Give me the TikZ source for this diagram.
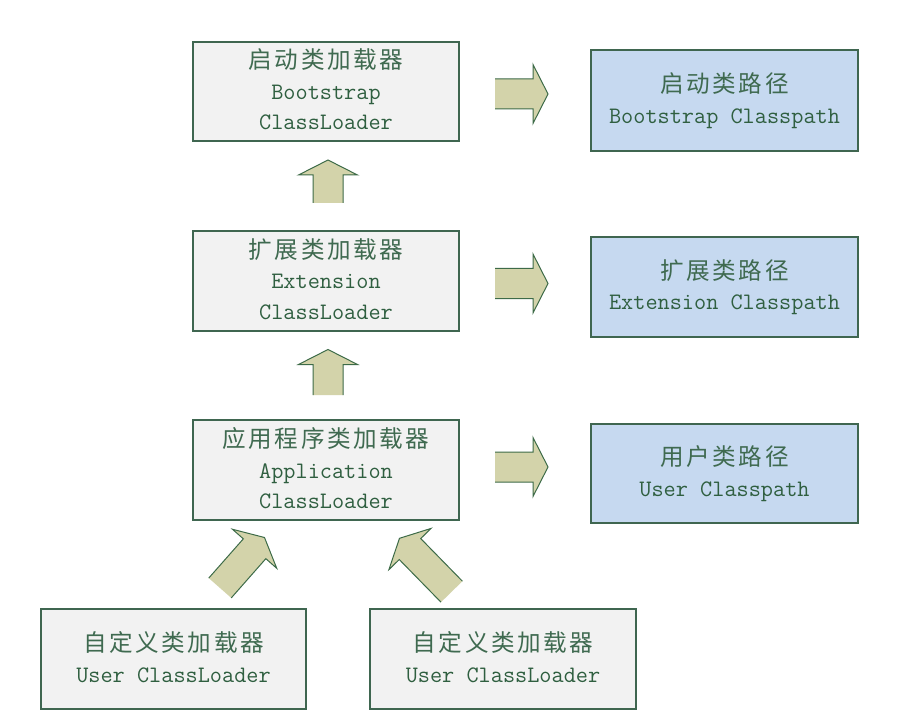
\documentclass[tikz,border=0pt]{standalone}
\usepackage{fontspec}
\newfontfamily\cjk[LetterSpace=11]{Noto Sans CJK SC}
\usetikzlibrary{calc}
\definecolor{boxgray}{HTML}{F2F2F2}
\definecolor{boxblue}{HTML}{C6D9F0}
\definecolor{edgecol}{HTML}{3F6650}
\definecolor{txtcol}{HTML}{2F5F40}
\definecolor{cjkcol}{HTML}{3F6A50}
\definecolor{arrfill}{HTML}{D3D3AA}
\definecolor{arredge}{HTML}{3D6B48}
\newcommand\lowstrut{\rule[-4pt]{0pt}{4pt}}
\newcommand\blockarrow[2]{%
  \coordinate (hb) at ($(#2)!15pt!(#1)$);
  \fill[arrfill] ($(#1)!15pt!90:(#2)$) -- ($(hb)!15pt!90:(#2)$) -- ($(hb)!29.5pt!90:(#2)$) -- (#2)
     -- ($(hb)!29.5pt!-90:(#2)$) -- ($(hb)!15pt!-90:(#2)$) -- ($(#1)!15pt!-90:(#2)$) -- cycle;
  \draw[arredge, line width=1pt, line join=miter] ($(#1)!15pt!90:(#2)$) -- ($(hb)!15pt!90:(#2)$) -- ($(hb)!29.5pt!90:(#2)$) -- (#2)
     -- ($(hb)!29.5pt!-90:(#2)$) -- ($(hb)!15pt!-90:(#2)$) -- ($(#1)!15pt!-90:(#2)$);
}
\tikzset{
  loader/.style={draw=edgecol, line width=1.2pt, fill=boxgray, minimum width=266pt, minimum height=99pt,
    inner sep=0pt, align=center, text=txtcol, font=\ttfamily\fontsize{23.6}{30.5}\selectfont},
  cpath/.style={loader, fill=boxblue, minimum width=267pt}
}
\begin{document}
\begin{tikzpicture}[x=1pt,y=-1pt]
\useasboundingbox (0,0) rectangle (900,722);
\node[loader] (b1) at (326,91.5) {{\color{cjkcol}\cjk 启动类加载器}\\Bootstrap\\ClassLoader\lowstrut};
\node[loader, minimum height=100pt] (b2) at (326,281) {{\color{cjkcol}\cjk 扩展类加载器}\\Extension\\ClassLoader\lowstrut};
\node[loader, minimum height=100pt] (b3) at (326,470) {{\color{cjkcol}\cjk 应用程序类加载器}\\Application\\ClassLoader\lowstrut};
\node[cpath, minimum height=101pt] (p1) at (724.5,100.5) {{\color{cjkcol}\cjk 启动类路径}\\Bootstrap Classpath};
\node[cpath, minimum height=100pt] (p2) at (724.5,287) {{\color{cjkcol}\cjk 扩展类路径}\\Extension Classpath};
\node[cpath] (p3) at (724.5,473.5) {{\color{cjkcol}\cjk 用户类路径}\\User Classpath};
\node[loader, minimum width=265pt, minimum height=100pt] (u1) at (173.5,659) {{\color{cjkcol}\cjk 自定义类加载器}\\User ClassLoader\lowstrut};
\node[loader, minimum height=100pt] (u2) at (503,659) {{\color{cjkcol}\cjk 自定义类加载器}\\User ClassLoader\lowstrut};
\coordinate (r1t) at (495,94);    \coordinate (r1h) at (548,94);
\coordinate (r2t) at (495,283.5); \coordinate (r2h) at (548,283.5);
\coordinate (r3t) at (495,467);   \coordinate (r3h) at (548,467);
\coordinate (u1t) at (328,203);   \coordinate (u1h) at (328,160);
\coordinate (u2t) at (328,395);   \coordinate (u2h) at (328,349.5);
\coordinate (d1t) at (220,588);   \coordinate (d1h) at (264.5,537.5);
\coordinate (d2t) at (451.7,591.7); \coordinate (d2h) at (399.5,538.3);
\blockarrow{r1t}{r1h}
\blockarrow{r2t}{r2h}
\blockarrow{r3t}{r3h}
\blockarrow{u1t}{u1h}
\blockarrow{u2t}{u2h}
\blockarrow{d1t}{d1h}
\blockarrow{d2t}{d2h}
\end{tikzpicture}
\end{document}
